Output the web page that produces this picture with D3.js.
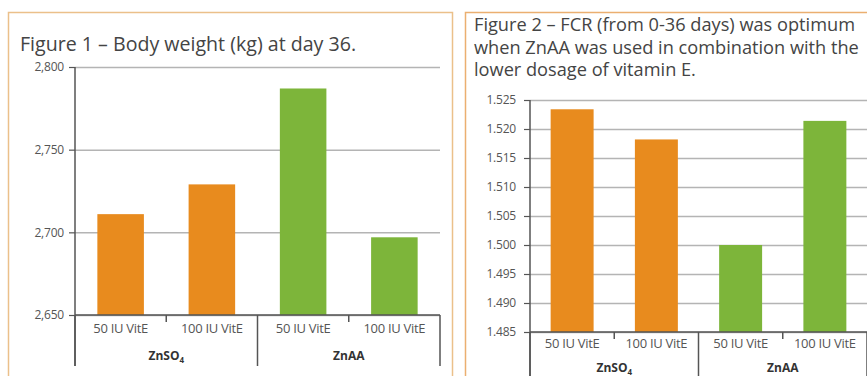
<!DOCTYPE html>
<html><head><meta charset="utf-8">
<script src="https://cdn.jsdelivr.net/npm/d3@7"></script>
<style>
html,body{margin:0;padding:0;background:#fff;}
svg{display:block;font-family:"Open Sans",sans-serif;}
</style></head>
<body>
<svg id="c" width="867" height="376"></svg>
<script>
const subCategories = ["50 IU VitE","100 IU VitE","50 IU VitE","100 IU VitE"];
const groups = ["ZnSO4","ZnAA"];
const barColors = ["#E88B1E","#E88B1E","#7DB53A","#7DB53A"];
const bodyWeight = [2711, 2729, 2787, 2697];
const bwTicks = [2650, 2700, 2750, 2800];
const fcr = [1.5234, 1.5182, 1.5000, 1.5214];
const fcrTicks = [1.485,1.490,1.495,1.500,1.505,1.510,1.515,1.520,1.525];

const svg = d3.select("#c");
const AX = "#555", GRID = "#b4b4b4", TXT = "#555";

svg.append("rect").attr("x",8.5).attr("y",12.5).attr("width",444).attr("height",400)
  .attr("fill","none").attr("stroke","#EBC08A").attr("stroke-width",1.5);
svg.append("rect").attr("x",465.5).attr("y",12.5).attr("width",440).attr("height",400)
  .attr("fill","none").attr("stroke","#EBAF70").attr("stroke-width",1.5);

svg.append("text").attr("x",20).attr("y",51).attr("font-size",19.6).attr("fill","#444")
  .text("Figure 1 – Body weight (kg) at day 36.");
const t2 = ["Figure 2 – FCR (from 0-36 days) was optimum","when ZnAA was used in combination with the","lower dosage of vitamin E."];
t2.forEach((s,i)=>svg.append("text").attr("x",474).attr("y",31+i*22.5).attr("font-size",18.2).attr("fill","#444").text(s));

function chart(o){
  const g = svg.append("g");
  const x = d3.scaleBand().domain(d3.range(4)).range([o.x0,o.x1]).paddingInner(o.pad).paddingOuter(o.pad/2);
  const y = d3.scaleLinear().domain(o.domain).range([o.yb,o.yt]);
  const yAxis = d3.axisLeft(y).tickValues(o.ticks).tickFormat(o.fmt).tickSize(-(o.x1-o.x0)).tickPadding(o.tp);
  const ga = g.append("g").attr("transform",`translate(${o.x0},0)`).call(yAxis);
  ga.select(".domain").remove();
  ga.selectAll(".tick line").attr("stroke",GRID).attr("stroke-width",1.5);
  ga.selectAll(".tick text").attr("fill",TXT).attr("font-size",12).attr("font-family","Open Sans").attr("letter-spacing","-0.2");
  ga.selectAll(".tick").append("line").attr("x1",-6).attr("x2",0).attr("stroke",AX).attr("stroke-width",1.2);
  g.selectAll("rect.bar").data(o.values).join("rect").attr("class","bar")
    .attr("x",(d,i)=>x(i)).attr("width",x.bandwidth())
    .attr("y",d=>y(d)).attr("height",d=>y(o.domain[0])-y(d))
    .attr("fill",(d,i)=>barColors[i]);
  g.append("line").attr("x1",o.x0).attr("x2",o.x0).attr("y1",o.yt).attr("y2",o.yl).attr("stroke",AX).attr("stroke-width",1.5);
  g.append("line").attr("x1",o.x0).attr("x2",o.x1).attr("y1",o.yb).attr("y2",o.yb).attr("stroke",AX).attr("stroke-width",1.5);
  const step = x.step();
  [0,2,4].forEach(k=>{ const xx=o.x0+k*step;
    g.append("line").attr("x1",xx).attr("x2",xx).attr("y1",o.yb).attr("y2",o.yl).attr("stroke",AX).attr("stroke-width",1.5);});
  [1,3].forEach(k=>{ const xx=o.x0+k*step;
    g.append("line").attr("x1",xx).attr("x2",xx).attr("y1",o.yb).attr("y2",o.yb+7).attr("stroke",AX).attr("stroke-width",1.5);});
  subCategories.forEach((s,i)=>g.append("text").attr("x",x(i)+x.bandwidth()/2).attr("y",o.yb+o.sub)
    .attr("text-anchor","middle").attr("font-size",13).attr("fill",TXT).attr("letter-spacing","-0.3").text(s));
  groups.forEach((s,i)=>{
    const t = g.append("text").attr("x",o.x0+(2*i+1)*step).attr("y",o.yb+o.grp).attr("text-anchor","middle")
      .attr("font-size",12).attr("font-weight","bold").attr("fill","#333");
    if(s==="ZnSO4"){ t.append("tspan").text("ZnSO"); t.append("tspan").attr("font-size",8).attr("dy",2.5).text("4"); }
    else t.text(s);
  });
}
chart({x0:75,x1:440,yt:67,yb:315,yl:366,domain:[2650,2800],ticks:bwTicks,fmt:d3.format(","),values:bodyWeight,pad:0.49,tp:11,sub:17.5,grp:45});
chart({x0:530,x1:867,yt:100,yb:332,yl:380,domain:[1.485,1.525],ticks:fcrTicks,fmt:d3.format(".3f"),values:fcr,pad:0.49,tp:14,sub:15.5,grp:40});
</script>
</body></html>
